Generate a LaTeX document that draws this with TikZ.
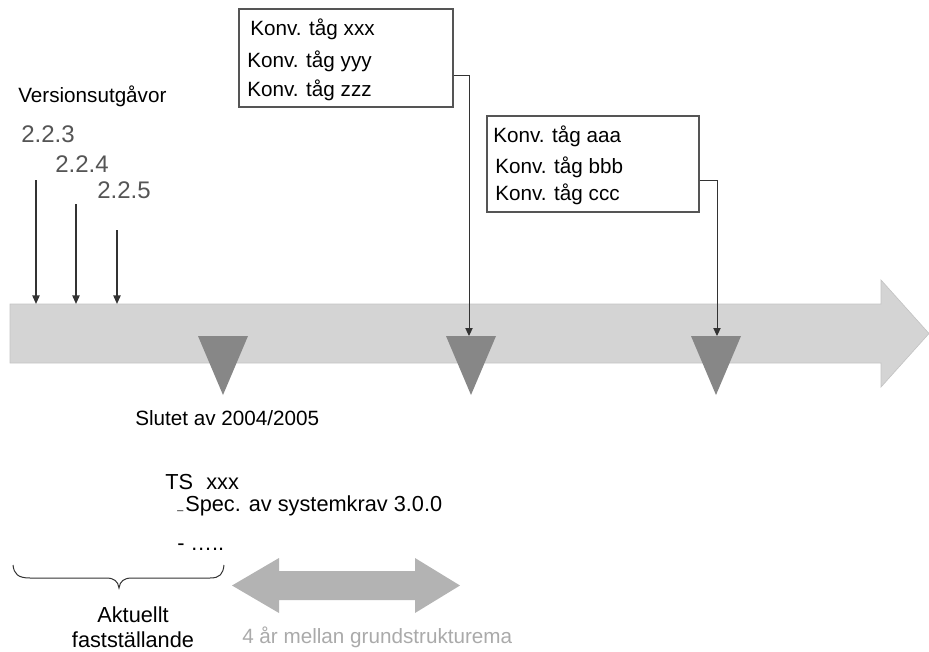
\documentclass[tikz,border=0pt]{standalone}
\usepackage{fontspec}
\setmainfont{Liberation Sans}
\usetikzlibrary{arrows.meta}
\definecolor{bargray}{HTML}{D4D4D4}
\definecolor{baredge}{HTML}{C4C4C4}
\definecolor{msgray}{HTML}{878787}
\definecolor{spangray}{HTML}{B3B3B3}
\definecolor{verblack}{HTML}{333333}
\definecolor{vergray}{HTML}{555555}
\definecolor{notegray}{HTML}{AAAAAA}
\tikzset{
  lbl/.style={anchor=base west,inner sep=0pt,font=\fontsize{15.5}{18}\selectfont},
  biglbl/.style={lbl,font=\fontsize{16.3}{19}\selectfont},
  vernum/.style={anchor=base west,inner sep=0pt,text=vergray,font=\fontsize{18}{20}\selectfont},
  konvbox/.style={draw=vergray,line width=0.9pt,inner sep=0pt},
  conn/.style={draw=verblack,line width=0.75pt,-{Triangle[length=6pt,width=5.5pt]}},
  relarrow/.style={draw=verblack,line width=1.1pt,-{Triangle[length=6.5pt,width=5.5pt]}},
}
\begin{document}
\begin{tikzpicture}[x=0.75pt,y=-0.75pt]
\useasboundingbox (0,0) rectangle (929,651);
% time line
\filldraw[fill=bargray,draw=baredge,line width=0.5pt] (10,304) -- (881,304) -- (881,280) -- (929,333.5) -- (881,387) -- (881,363) -- (10,363) -- cycle;
% milestones
\foreach \x in {223,471,716}{
  \fill[msgray] (\x-25,336) -- (\x+25,336) -- (\x,395) -- cycle;
}
\coordinate (msB) at (469,336); \coordinate (msC) at (717,336);
% version releases
\node[lbl] (vers) at (18,102) {Versionsutgåvor};
\node[vernum] (vA) at (21,142) {2.2.3};
\node[vernum] (vB) at (55,172) {2.2.4};
\node[vernum] (vC) at (97,198) {2.2.5};
\coordinate (sA) at (36,180); \coordinate (sB) at (76,204); \coordinate (sC) at (117,230);
\coordinate (eA) at (36,304); \coordinate (eB) at (76,304); \coordinate (eC) at (117,304);
\foreach \A/\B in {sA/eA,sB/eB,sC/eC}{\draw[relarrow] (\A) -- (\B);}
% conversion trains
\node[konvbox,minimum width=160.5pt,minimum height=73.5pt] (konvA) at (346,58) {};
\node[lbl] (kx) at (250,35) {Konv. tåg xxx};
\node[lbl] (ky) at (247,67) {Konv. tåg yyy};
\node[lbl] (kz) at (247,96) {Konv. tåg zzz};
\node[konvbox,minimum width=159pt,minimum height=72pt] (konvB) at (593,164) {};
\node[lbl] (ka) at (493,142) {Konv. tåg aaa};
\node[lbl] (kb) at (495,173) {Konv. tåg bbb};
\node[lbl] (kc) at (495,200) {Konv. tåg ccc};
\draw[conn] ([yshift=-12.75pt]konvA.east) -| (msB);
\draw[conn] ([yshift=-12pt]konvB.east) -| (msC);
% current baseline
\node[lbl] (slut) at (135,425) {Slutet av 2004/2005};
\node[biglbl] (ts) at (165,489) {TS\hspace{10pt}xxx};
\node[lbl,font=\fontsize{8}{10}\selectfont] (da) at (177,509) {\_};
\node[biglbl] (spec) at (185,511) {Spec. av systemkrav 3.0.0};
\node[biglbl] (db) at (177,550) {-};
\node[biglbl] (more) at (190,550) {…..};
\draw[verblack,line width=0.75pt] (13,565) .. controls (14,574) and (18,578) .. (30,578) -- (106,578) .. controls (114,578) and (118,581) .. (119,588) .. controls (120,581) and (124,578) .. (132,578) -- (210,578) .. controls (220,578) and (223,574) .. (224,565);
\node[biglbl,anchor=base] (akt) at (133,622) {Aktuellt};
\node[biglbl,anchor=base] (fast) at (133,647) {fastställande};
% span between base structures
\fill[spangray] (232,585.5) -- (279,558) -- (279,571) -- (415,571) -- (415,558) -- (460,585.5) -- (415,613) -- (415,600) -- (279,600) -- (279,613) -- cycle;
\node[lbl,text=notegray] (span) at (242,643) {4 år mellan grundstrukturema};
\end{tikzpicture}
\end{document}
